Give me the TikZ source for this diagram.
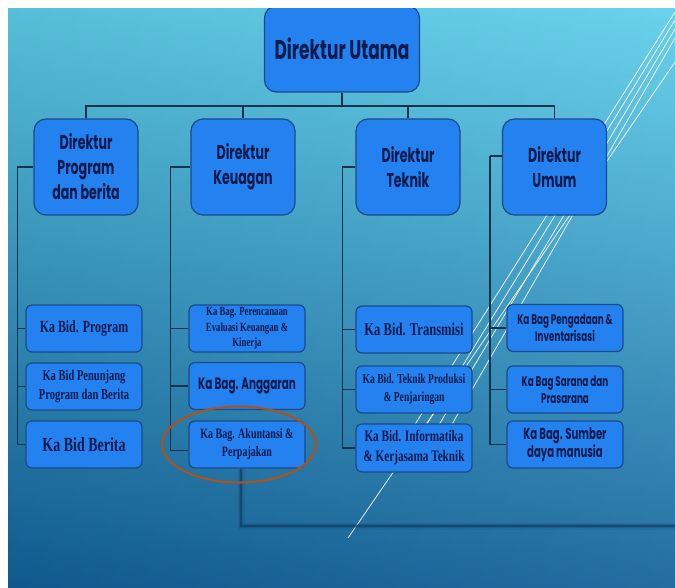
\documentclass[tikz,border=0pt]{standalone}
\usepackage{fontspec}
\usetikzlibrary{shapes.geometric,calc}
\newfontfamily\gothic[FakeStretch=0.63]{Poppins}
\newfontfamily\serifb[FakeStretch=0.7]{Liberation Serif}
\definecolor{boxfill}{HTML}{2381F0}
\definecolor{boxline}{HTML}{1B4A8A}
\definecolor{txt}{HTML}{0D1A4C}
\definecolor{connc}{HTML}{17324F}
\definecolor{ring}{HTML}{B0501A}
\definecolor{bgtop}{HTML}{5ECFEA}
\definecolor{bgmid}{HTML}{3AA5D0}
\definecolor{bgbot}{HTML}{11619A}
\definecolor{shadowc}{HTML}{0F3C60}
\tikzset{
  boxbase/.style={draw=boxline, fill=boxfill, line width=1.2pt, text=txt, align=center, inner sep=0pt},
  lone/.style={boxbase, rounded corners=12pt, minimum width=155pt, minimum height=86pt,
    font=\gothic\bfseries\fontsize{27}{32}\selectfont},
  ltwo/.style={boxbase, rounded corners=12pt, minimum width=104pt, minimum height=96pt,
    font=\gothic\bfseries\fontsize{20}{25}\selectfont},
  lthree/.style={boxbase, rounded corners=6pt, minimum width=116pt, minimum height=47pt},
  conn/.style={draw=connc, line width=1.6pt},
  deco/.style={draw=white, line width=0.8pt, opacity=0.85},
}
\begin{document}
\begin{tikzpicture}[x=1pt,y=-1pt]
\useasboundingbox (0,0) rectangle (675,587);
\fill[white] (0,0) rectangle (675,587);
\begin{scope}
\clip (8,8) rectangle (675,587);
\shade[top color=bgtop, middle color=bgmid, bottom color=bgbot] (8,8) rectangle (675,587);
\shade[left color=black, right color=white, opacity=0.08] (8,8) rectangle (675,587);
% decorative lines
\draw[deco] (675,12) -- (402,445);
\draw[deco] (675,20) -- (414,445);
\draw[deco] (675,29) -- (427,445);
\draw[deco] (675,38) -- (440,445);
\draw[deco] (675,62) -- (348,538);
% nodes
\node[lone] (utama) at (342,49) {Direktur Utama};
\node[ltwo] (prog) at (86,167) {Direktur\\Program\\dan berita};
\node[ltwo] (keu) at (243,167) {Direktur\\Keuagan};
\node[ltwo] (tek) at (408,167) {Direktur\\Teknik};
\node[ltwo] (umum) at (554.5,167) {Direktur\\Umum};

\node[lthree, font=\serifb\bfseries\fontsize{17}{20}\selectfont] (kbprog) at (84,328.5) {Ka Bid. Program};
\node[lthree, font=\serifb\bfseries\fontsize{15}{19}\selectfont] (kbpen) at (84,386.5) {Ka Bid Penunjang\\Program dan Berita};
\node[lthree, font=\serifb\bfseries\fontsize{20}{24}\selectfont] (kbber) at (84,444.5) {Ka Bid Berita};

\node[lthree, font=\serifb\bfseries\fontsize{12.5}{15.5}\selectfont] (kperenc) at (247,328.5) {Ka Bag. Perencanaan\\Evaluasi Keuangan \&\\Kinerja};
\node[lthree, font=\gothic\bfseries\fontsize{16.5}{20}\selectfont] (kangg) at (247,386) {Ka Bag. Anggaran};
\node[lthree, font=\serifb\bfseries\fontsize{14.3}{18}\selectfont] (kakun) at (247,444.5) {Ka Bag. Akuntansi \&\\Perpajakan};

\node[lthree, font=\serifb\bfseries\fontsize{18}{21}\selectfont] (ktrans) at (414,329.5) {Ka Bid. Transmisi};
\node[lthree, font=\serifb\bfseries\fontsize{13.7}{18}\selectfont] (kprod) at (414,389.5) {Ka Bid. Teknik Produksi\\\& Penjaringan};
\node[lthree, minimum height=48pt, font=\serifb\bfseries\fontsize{16}{20}\selectfont] (kinfo) at (414,448) {Ka Bid. Informatika\\\& Kerjasama Teknik};

\node[lthree, font=\gothic\bfseries\fontsize{14}{17}\selectfont] (kpeng) at (565,328) {Ka Bag Pengadaan \&\\Inventarisasi};
\node[lthree, font=\gothic\bfseries\fontsize{14}{17}\selectfont] (ksar) at (565,389.5) {Ka Bag Sarana dan\\Prasarana};
\node[lthree, font=\gothic\bfseries\fontsize{16}{18}\selectfont] (ksdm) at (565,444.5) {Ka Bag. Sumber\\daya manusia};

% shadow line
\coordinate (shadowEnd) at (675,526);
\draw[shadowc, line width=7pt, opacity=0.12] ([xshift=-6pt]kakun.south) |- (shadowEnd);
\draw[shadowc, line width=4.5pt, opacity=0.25] ([xshift=-6pt]kakun.south) |- (shadowEnd);
\draw[shadowc, line width=2.5pt, opacity=0.6] ([xshift=-6pt]kakun.south) |- (shadowEnd);

% connectors
\coordinate (bus) at (342,106);
\draw[conn] (utama.south) -- (bus);
\draw[conn] (prog.north) -- (prog.north |- bus) -- (umum.north |- bus) -- (umum.north);
\draw[conn] (keu.north) -- (keu.north |- bus);
\draw[conn] (tek.north) -- (tek.north |- bus);

\draw[conn] (prog.west) -- ++(-16,0) coordinate (sa);
\draw[conn] (sa) |- (kbprog.west);
\draw[conn] (sa) |- (kbpen.west);
\draw[conn] (sa) |- (kbber.west);

\draw[conn] (keu.west) -- ++(-20,0) coordinate (sb);
\draw[conn] (sb) |- (kperenc.west);
\draw[conn] (sb) |- (kangg.west);
\draw[conn] (sb) |- ([yshift=-6pt]kakun.west);

\draw[conn] (tek.west) -- ++(-13,0) coordinate (sc);
\draw[conn] (sc) |- (ktrans.west);
\draw[conn] (sc) |- (kprod.west);
\draw[conn] (sc) |- (kinfo.west);

\draw[conn] ([yshift=11pt]umum.west) -- ++(-12,0) coordinate (sd);
\draw[conn] (sd) |- (kpeng.west);
\draw[conn] (sd) |- (ksar.west);
\draw[conn] (sd) |- (ksdm.west);

% highlight ring
\node[draw=ring, line width=2pt, ellipse, minimum width=154pt, minimum height=76pt, inner sep=0pt] (hring) at ([xshift=-8pt]kakun.center) {};
\end{scope}
\end{tikzpicture}
\end{document}
